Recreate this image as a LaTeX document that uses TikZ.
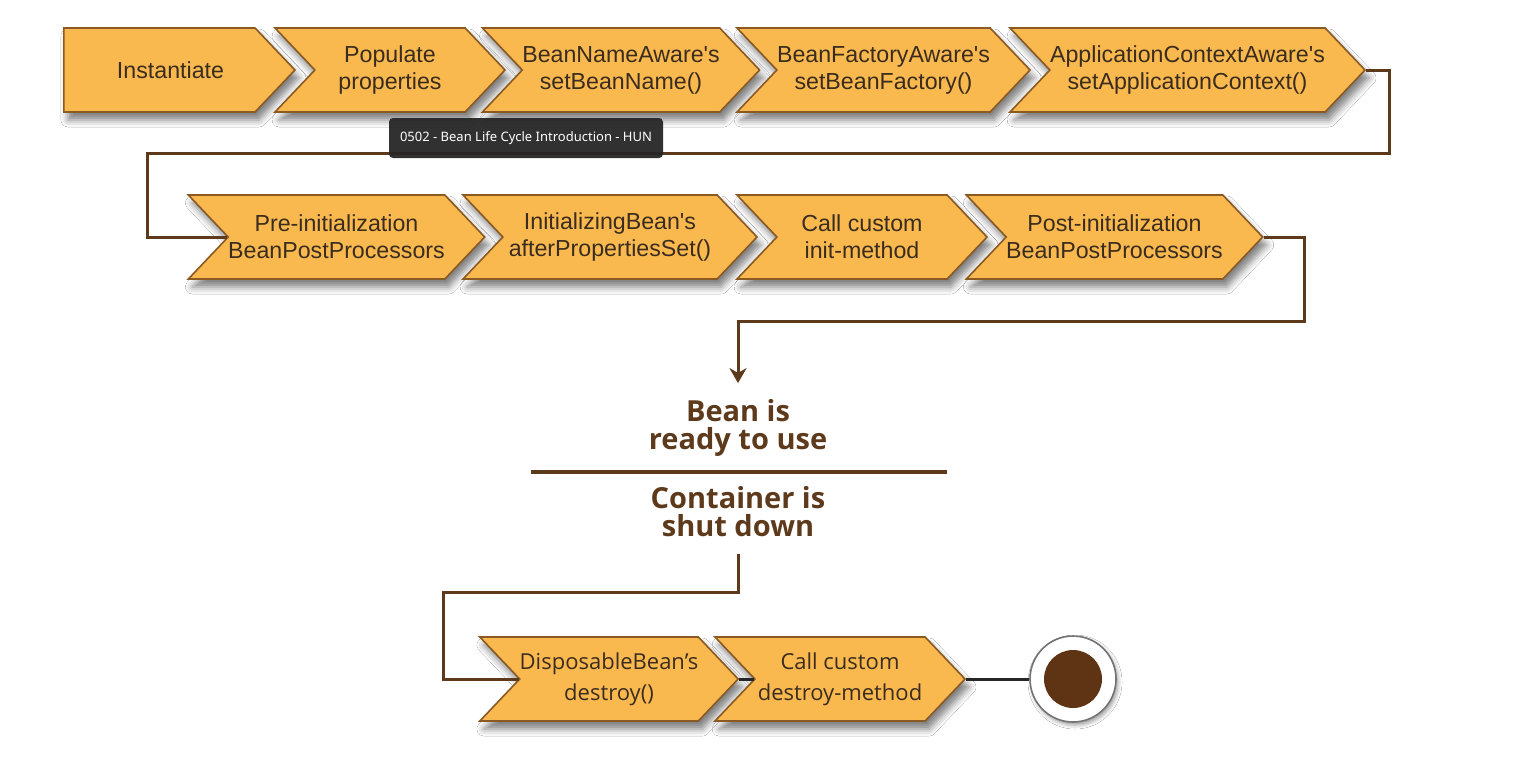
\documentclass[tikz,border=0pt]{standalone}
\usepackage{fontspec}
\setmainfont{Liberation Sans}
\newfontfamily\humanist{Open Sans}
\newfontfamily\playerfont{Noto Sans}
\usetikzlibrary{positioning,shapes.symbols,shadows.blur,arrows.meta}

\definecolor{chevfill}{HTML}{F9B94F}
\definecolor{chevline}{HTML}{8A5A22}
\definecolor{chevtext}{HTML}{3A2C1E}
\definecolor{flow}{HTML}{5E3A1C}
\definecolor{enddot}{HTML}{5E3415}

\begin{document}
\begin{tikzpicture}[x=0.5pt, y=-0.5pt,
    stage/.style={signal, signal to=east, signal from=west, signal pointer angle=93,
      draw=chevline, line width=0.8pt, fill=chevfill, text=chevtext,
      inner sep=0pt, minimum height=42pt, align=center,
      font=\fontsize{11.6}{13.5}\selectfont,
      blur shadow={shadow xshift=2pt, shadow yshift=-4pt, shadow blur radius=3.5pt,
        shadow opacity=50}},
    laststage/.style={stage, font=\humanist\fontsize{11}{15.5}\selectfont},
    milestone/.style={align=center, inner sep=8pt, text=flow,
      font=\humanist\bfseries\fontsize{14.5}{14}\selectfont},
    flowline/.style={draw=flow, line width=1.5pt},
    endline/.style={draw=black!85, line width=1.5pt}]

\path[fill=white, use as bounding box] (0,0) rectangle (1513,762);

% first row
\node[stage, signal from=nowhere, minimum width=115.5pt] (inst) at (159.5,70) {\hspace*{11pt}Instantiate};
\node[stage, minimum width=115pt] (props) at (390,70) {Populate\\properties};
\node[stage, minimum width=136pt] (name) at (621,70) {BeanNameAware\textquotesingle s\\setBeanName()};
\node[stage, minimum width=146.5pt] (factory) at (883.5,70) {BeanFactoryAware\textquotesingle s\\setBeanFactory()};
\node[stage, minimum width=177.5pt] (context) at (1187.5,70) {ApplicationContextAware\textquotesingle s\\setApplicationContext()};

% second row
\node[stage, minimum width=146.5pt] (pre) at (336.5,237) {Pre-initialization\\BeanPostProcessors};
\node[stage, minimum width=147pt] (afterset) at (610,237) {InitializingBean\textquotesingle s\\afterPropertiesSet()};
\node[stage, minimum width=125pt] (initm) at (862,237) {Call custom\\init-method};
\node[stage, minimum width=147.5pt] (post) at (1114.5,237) {Post-initialization\\BeanPostProcessors};

% ready / shut down
\node[milestone] (ready) at (738,428) {Bean is\\ready to use};
\node[milestone] (shut) at (738,512) {Container is\\shut down};
\draw[flow, line width=2.2pt] (531,472) -- (947,472);

% last row
\node[laststage, minimum width=126pt] (dispose) at (609,679) {DisposableBean’s\\destroy()};
\node[laststage, minimum width=125pt] (destroym) at (840,679) {Call custom\\destroy-method};
\node[circle, draw=black!55, line width=0.8pt, fill=white, minimum size=43pt,
      blur shadow={shadow xshift=1pt, shadow yshift=-1.5pt, shadow blur radius=2pt}] (finish) at (1073,679) {};
\node[circle, fill=enddot, minimum size=29pt] (finishdot) at (finish) {};

% connectors
\coordinate (turnA) at (1389,153);
\coordinate (turnB) at (147,153);
\coordinate (turnC) at (1304,321);
\coordinate (turnD) at (443,592);
\draw[flowline] (context.east) -| (turnA) -- (turnB) |- (pre.west);
\draw[flowline, -{Stealth[length=7.5pt, width=8.5pt]}] (post.east) -| (turnC) -| (ready.north);
\draw[flowline] (shut.south) |- (turnD) |- (dispose.west);
\draw[endline] (dispose.east) -- (destroym.west);
\draw[endline] (destroym.east) -- (finish);

% player tooltip
\node[fill=black!85, fill opacity=0.95, text opacity=1, rounded corners=2pt,
      minimum width=137pt, minimum height=20pt, text=white,
      font=\playerfont\fontsize{6.5}{8}\selectfont] (player) at (526,138)
      {0502 - Bean Life Cycle Introduction - HUN};
\end{tikzpicture}
\end{document}
